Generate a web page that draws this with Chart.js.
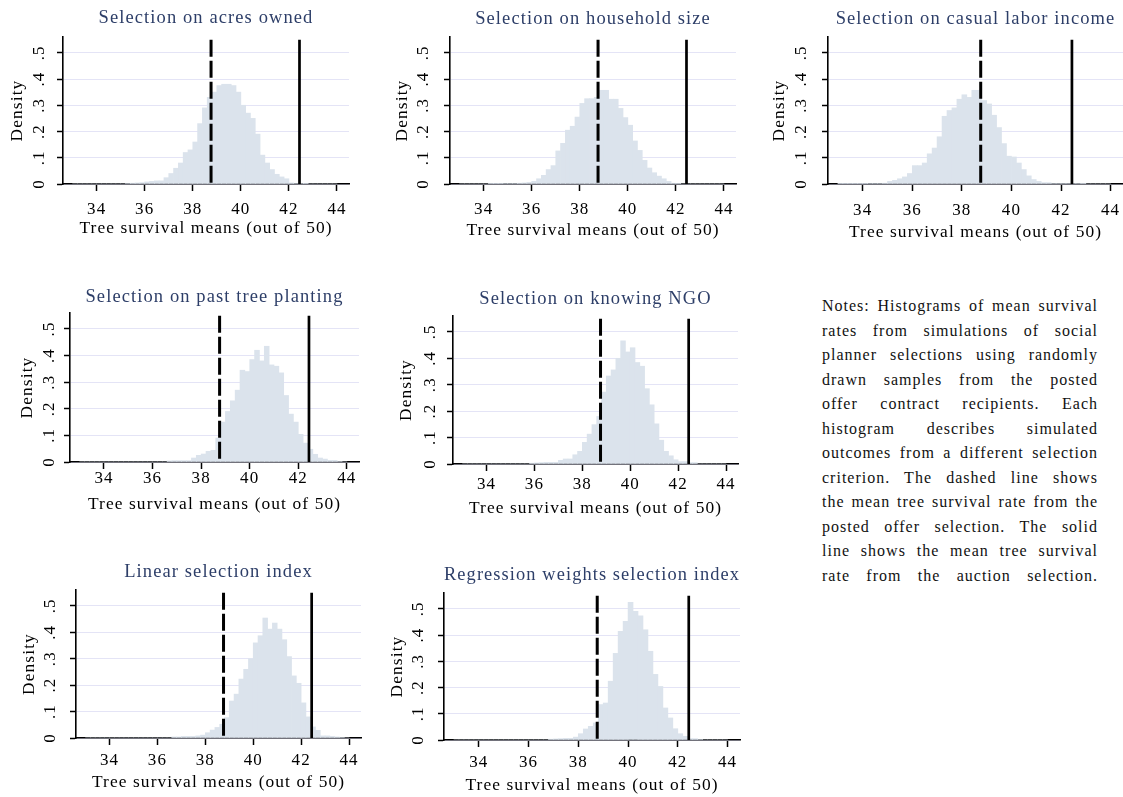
<!DOCTYPE html>
<html>
<head>
<meta charset="utf-8">
<script src="https://cdn.jsdelivr.net/npm/chart.js@4.4.0/dist/chart.umd.min.js"></script>
<style>
  html, body { margin: 0; padding: 0; background: #fff; width: 1123px; height: 797px; overflow: hidden; }
  #page { position: relative; width: 1123px; height: 797px; overflow: hidden; }
  canvas { position: absolute; }
  #notes {
    position: absolute; left: 822px; top: 294px; width: 276px;
    font-family: 'Liberation Serif', 'Times New Roman', serif;
    font-size: 16px; letter-spacing: 1px; line-height: 24.5px; color: #111;
  }
  #notes div { text-align: justify; text-align-last: justify; }
</style>
</head>
<body>
<div id="page">
  <div id="notes">
    <div>Notes: Histograms of mean survival</div>
    <div>rates from simulations of social</div>
    <div>planner selections using randomly</div>
    <div>drawn samples from the posted</div>
    <div>offer contract recipients. Each</div>
    <div>histogram describes simulated</div>
    <div>outcomes from a different selection</div>
    <div>criterion. The dashed line shows</div>
    <div>the mean tree survival rate from the</div>
    <div>posted offer selection. The solid</div>
    <div>line shows the mean tree survival</div>
    <div>rate from the auction selection.</div>
  </div>
</div>
<script>
// histogram bins (centres, width 0.2)
const binCenters = [
  33.1, 33.3, 33.5, 33.7, 33.9, 34.1, 34.3, 34.5, 34.7, 34.9,
  35.1, 35.3, 35.5, 35.7, 35.9, 36.1, 36.3, 36.5, 36.7, 36.9,
  37.1, 37.3, 37.5, 37.7, 37.9, 38.1, 38.3, 38.5, 38.7, 38.9,
  39.1, 39.3, 39.5, 39.7, 39.9, 40.1, 40.3, 40.5, 40.7, 40.9,
  41.1, 41.3, 41.5, 41.7, 41.9, 42.1, 42.3, 42.5, 42.7, 42.9,
  43.1, 43.3, 43.5, 43.7, 43.9
];

// densities, one value per bin
const acresOwned = [
  0, 0, 0, 0, 0,  0, 0, 0, 0, 0,
  0, .002, .003, .004, .005,  .008, .010, .012, .012, .024,
  .040, .060, .080, .120, .130,  .160, .230, .290, .330, .350,
  .375, .380, .380, .375, .350,  .300, .270, .250, .190, .110,
  .080, .055, .037, .027, .020,  .004, .002, .002, .001, 0,
  0, 0, 0, 0, 0
];
const householdSize = [
  0, 0, 0, 0, 0,  0, .001, .001, .001, .002,
  .002, .002, .003, .004, .006,  .010, .020, .033, .055, .070,
  .126, .155, .205, .220, .255,  .307, .325, .325, .330, .357,
  .357, .323, .323, .288, .253,  .224, .164, .128, .090, .061,
  .043, .030, .020, .010, .003,  .001, 0, 0, 0, 0,
  0, 0, 0, 0, 0
];
const casualLaborIncome = [
  .001, .001, .001, .001, .001,  .001, .002, .002, .002, .003,
  .010, .014, .020, .027, .040,  .070, .070, .080, .115, .137,
  .180, .258, .280, .290, .323,  .340, .330, .357, .357, .318,
  .305, .262, .215, .154, .106,  .103, .080, .055, .031, .017,
  .010, .005, .005, .002, .002,  .002, .002, .002, .002, .001,
  0, 0, 0, 0, 0
];
const pastTreePlanting = [
  0, 0, 0, 0, 0,  0, 0, 0, 0, 0,
  0, 0, 0, 0, 0,  0, 0, 0, .004, .005,
  .005, .005, .005, .015, .025,  .030, .040, .044, .090, .150,
  .190, .230, .270, .345, .340,  .385, .420, .380, .435, .365,
  .360, .335, .250, .180, .150,  .104, .071, .048, .029, .015,
  .011, .006, .006, .002, 0
];
const knowingNGO = [
  0, 0, 0, 0, 0,  0, 0, 0, 0, 0,
  0, 0, 0, 0, .003,  .004, .005, .006, .006, .006,
  .014, .019, .019, .035, .048,  .082, .113, .149, .180, .272,
  .333, .356, .400, .466, .424,  .440, .384, .370, .285, .224,
  .152, .090, .048, .031, .016,  .009, .009, .005, .005, 0,
  0, 0, 0, 0, 0
];
const linearIndex = [
  0, 0, 0, 0, 0,  0, 0, 0, 0, 0,
  0, 0, 0, 0, 0,  0, 0, 0, .004, .004,
  .006, .006, .006, .008, .011,  .020, .030, .040, .052, .077,
  .140, .166, .223, .260, .300,  .360, .387, .454, .412, .435,
  .412, .372, .308, .235, .207,  .133, .080, .042, .029, .008,
  .008, .006, .004, .002, 0
];
const regressionWeights = [
  0, 0, 0, 0, 0,  0, 0, 0, 0, 0,
  0, 0, 0, 0, 0,  0, 0, 0, 0, .003,
  .004, .005, .006, .006, .011,  .024, .042, .052, .065, .135,
  .141, .224, .330, .414, .452,  .524, .490, .473, .420, .338,
  .250, .204, .122, .084, .043,  .024, .014, .005, .005, .002,
  0, 0, 0, 0, 0
];

const panelTitles = [
  'Selection on acres owned',
  'Selection on household size',
  'Selection on casual labor income',
  'Selection on past tree planting',
  'Selection on knowing NGO',
  'Linear selection index',
  'Regression weights selection index'
];
const panelData = [acresOwned, householdSize, casualLaborIncome, pastTreePlanting,
                   knowingNGO, linearIndex, regressionWeights];

const postedOfferMean = 38.76;  // dashed line
const auctionMean = 42.44;      // solid line
const refLineTop = 0.55;

const xTickValues = [34, 36, 38, 40, 42, 44];
const yTickValues = [0, 0.1, 0.2, 0.3, 0.4, 0.5];
const yTickLabels = ['0', '.1', '.2', '.3', '.4', '.5'];
const xAxisTitle = 'Tree survival means (out of 50)';
const yAxisTitle = 'Density';

// plot-area boxes on the page (L/R/T/B of the axes) and text offsets
const panelBoxes = [
  { L: 63,  R: 349,  T: 37,  B: 184, titleY: 18,  xTick: 26, xTitle: 44, yTick: 24, yTitle: 46 },
  { L: 450, R: 736,  T: 37,  B: 184, titleY: 19,  xTick: 26, xTitle: 46, yTick: 27, yTitle: 48 },
  { L: 828, R: 1123, T: 37,  B: 184, titleY: 19,  xTick: 27, xTitle: 48, yTick: 27, yTitle: 49 },
  { L: 70,  R: 359,  T: 313, B: 462, titleY: 297, xTick: 17, xTitle: 42, yTick: 21, yTitle: 43 },
  { L: 453, R: 738,  T: 316, B: 464, titleY: 299, xTick: 21, xTitle: 44, yTick: 23, yTitle: 47 },
  { L: 76,  R: 361,  T: 590, B: 738, titleY: 572, xTick: 23, xTitle: 44, yTick: 26, yTitle: 47 },
  { L: 444, R: 740,  T: 593, B: 740, titleY: 575, xTick: 23, xTitle: 45, yTick: 26, yTitle: 47 }
];

const serif = "'Liberation Serif', 'Times New Roman', serif";
const barColor = '#dbe3ec';
const gridColor = '#e4e4f6';
const titleColor = '#2d3e68';

// stata-ish wide letter spacing on the canvas text
const spacingPlugin = {
  id: 'spacing',
  beforeDraw(chart) { chart.ctx.letterSpacing = '1.1px'; }
};

function makePanel(i) {
  const box = panelBoxes[i];
  const wY = box.yTitle + 11;
  const hX = box.xTitle + 14;
  const padR = 10;
  const top = box.titleY - 14;
  const titleBlock = box.T - top;

  const canvas = document.createElement('canvas');
  canvas.width = wY + (box.R - box.L) + padR;
  canvas.height = (box.B - top) + hX;
  canvas.style.left = (box.L - wY) + 'px';
  canvas.style.top = top + 'px';
  document.getElementById('page').appendChild(canvas);

  const dens = panelData[i];

  new Chart(canvas.getContext('2d'), {
    type: 'bar',
    data: {
      datasets: [
        {
          type: 'line',
          data: [{ x: auctionMean, y: refLineTop }, { x: auctionMean, y: 0 }],
          borderColor: '#000', borderWidth: 2.7, pointRadius: 0, order: 0
        },
        {
          type: 'line',
          data: [{ x: postedOfferMean, y: refLineTop }, { x: postedOfferMean, y: 0 }],
          borderColor: '#000', borderWidth: 3, borderDash: [17, 4], pointRadius: 0, order: 0
        },
        {
          type: 'bar',
          data: binCenters.map((c, k) => ({ x: c, y: dens[k] })),
          backgroundColor: barColor, borderWidth: 0,
          barPercentage: 1, categoryPercentage: 1, order: 1
        }
      ]
    },
    options: {
      responsive: false,
      animation: false,
      events: [],
      layout: { padding: { left: 0, right: padR, top: 0, bottom: 0 } },
      plugins: {
        legend: { display: false },
        tooltip: { enabled: false },
        title: {
          display: true,
          text: panelTitles[i],
          color: titleColor,
          fullSize: false,
          font: { family: serif, size: 18.5, weight: 'normal', lineHeight: 1.2 },
          padding: { top: 2.9, bottom: titleBlock - 2.9 - 22.2 }
        }
      },
      scales: {
        x: {
          type: 'linear', min: 32.6, max: 44.5, bounds: 'data', offset: false,
          afterBuildTicks: s => { s.ticks = xTickValues.map(v => ({ value: v })); },
          afterFit: s => { s.height = hX; },
          grid: { drawOnChartArea: false, offset: false, tickLength: 7, tickColor: '#000', tickWidth: 1.5 },
          border: { display: true, color: '#000', width: 1.6 },
          ticks: {
            color: '#000', autoSkip: false, maxRotation: 0,
            padding: box.xTick - 17.2,
            font: { family: serif, size: 17, lineHeight: 1.2 },
            callback: v => String(v)
          },
          title: {
            display: true, text: xAxisTitle, color: '#000',
            font: { family: serif, size: 17.4, lineHeight: 1.2 },
            padding: { top: 0, bottom: 3.56 }
          }
        },
        y: {
          min: 0, max: 0.56, bounds: 'data',
          afterBuildTicks: s => { s.ticks = yTickValues.map(v => ({ value: v })); },
          afterFit: s => { s.width = wY; },
          grid: { color: gridColor, lineWidth: 1, tickLength: 6, tickColor: '#000', tickWidth: 1.5 },
          border: { display: true, color: '#000', width: 1.6 },
          ticks: {
            color: '#000', autoSkip: false,
            minRotation: 90, maxRotation: 90, crossAlign: 'center',
            padding: box.yTick - 12.75,
            font: { family: serif, size: 17, lineHeight: 1.2 },
            callback: (v, idx) => yTickLabels[idx]
          },
          title: {
            display: true, text: yAxisTitle, color: '#000',
            font: { family: serif, size: 17.4, lineHeight: 1.2 },
            padding: { top: 0.56, bottom: 0 }
          }
        }
      }
    },
    plugins: [spacingPlugin]
  });
}

for (let i = 0; i < panelTitles.length; i++) {
  makePanel(i);
}
</script>
</body>
</html>
